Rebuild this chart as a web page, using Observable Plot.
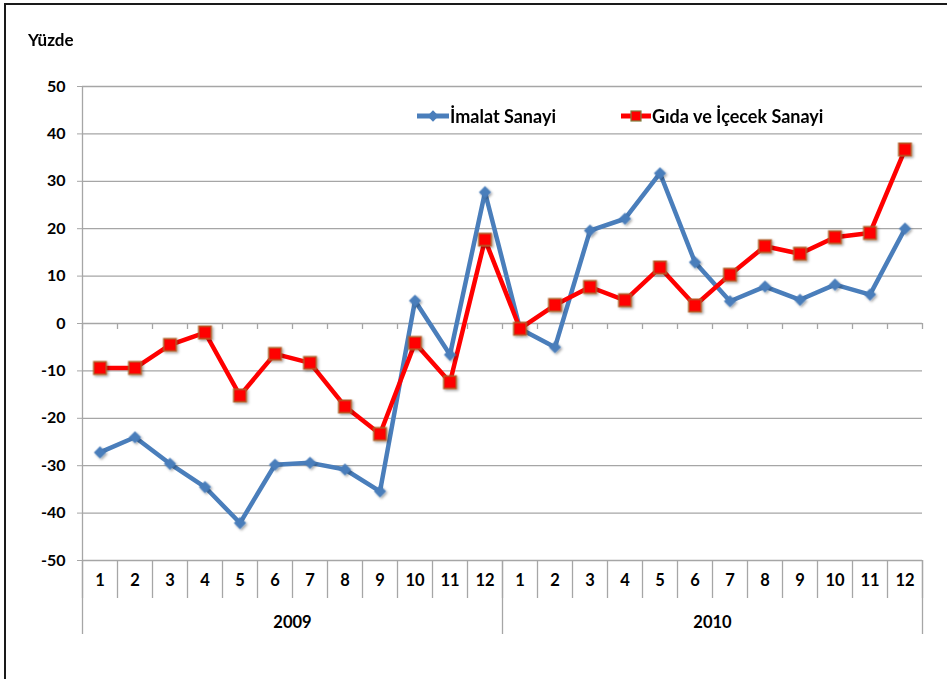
<!DOCTYPE html>
<html><head><meta charset="utf-8">
<script src="https://cdn.jsdelivr.net/npm/d3@7"></script>
<script src="https://cdn.jsdelivr.net/npm/@observablehq/plot@0.6"></script>
<style>
body{margin:0;background:#fff;font-family:Lato,"Open Sans",sans-serif;}
#wrap{position:relative;width:947px;height:679px;overflow:hidden;}
#chart{position:absolute;left:0;top:0;}
#frame{position:absolute;left:4px;top:3px;width:960px;height:700px;border-left:2px solid #1a1a1a;border-top:2px solid #1a1a1a;box-sizing:border-box;}
#ytitle{position:absolute;left:28px;top:29px;font-weight:bold;font-size:17px;color:#000;}
.leg{position:absolute;top:105px;height:22px;display:flex;align-items:center;font-weight:bold;font-size:18px;color:#000;white-space:nowrap;}
.leg svg{display:block;margin-right:1px;}
</style></head>
<body><div id="wrap"><div id="chart"></div><div id="frame"></div><div id="ytitle">Yüzde</div><div id="legend"></div></div>
<script>
const months = ["1","2","3","4","5","6","7","8","9","10","11","12"];
const years = ["2009","2010"];
const seriesNames = ["İmalat Sanayi","Gıda ve İçecek Sanayi"];
const imalat = [-27.2,-24.0,-29.6,-34.5,-42.1,-29.8,-29.4,-30.8,-35.4,4.8,-6.6,27.7,
                -1.1,-5.0,19.6,22.1,31.7,12.9,4.7,7.8,5.0,8.2,6.1,20.0];
const gida = [-9.4,-9.4,-4.5,-1.9,-15.2,-6.4,-8.3,-17.5,-23.3,-4.1,-12.4,17.7,
              -1.1,3.9,7.7,4.9,11.8,3.8,10.3,16.3,14.7,18.2,19.1,36.7];
const yTicks = [-50,-40,-30,-20,-10,0,10,20,30,40,50];

const blue = "#4a7ebb", red = "#ff0000", grid = "#a6a6a6";
const rows = [];
years.forEach((yr, yi) => months.forEach((m, mi) => {
  const i = yi * months.length + mi;
  rows.push({i, month: m, year: yr, imalat: imalat[i], gida: gida[i]});
}));
const n = rows.length;
const xc = d => d.i + 0.5;

const chart = Plot.plot({
  width: 947, height: 679,
  marginLeft: 82, marginRight: 25, marginTop: 86, marginBottom: 119,
  x: {domain: [0, n], axis: null},
  y: {domain: [-50, 50], axis: null},
  style: {fontFamily: "Lato, 'Open Sans', sans-serif", background: "transparent", overflow: "visible"},
  marks: [
    Plot.ruleY(yTicks, {stroke: grid, strokeWidth: 1.3}),
    Plot.ruleX([0], {stroke: grid, strokeWidth: 1.3}),
    Plot.axisY(yTicks, {anchor: "left", tickSize: 5, tickPadding: 12, stroke: grid, fill: "#000",
      fontSize: 16, fontWeight: "bold", tickFormat: d => String(d), label: null}),
    Plot.ruleX(d3.range(n + 1), {y1: 0, y2: 0, insetBottom: -6, stroke: grid, strokeWidth: 1.3}),
    Plot.ruleX(d3.range(n + 1), {y1: -50, y2: -50, insetBottom: -38, stroke: grid, strokeWidth: 1.3}),
    Plot.ruleX(d3.range(0, n + 1, months.length), {y1: -50, y2: -50, insetBottom: -74, stroke: grid, strokeWidth: 1.3}),
    Plot.text(rows, {x: xc, y: -50, dy: 20, text: "month", fontSize: 16.5, fontWeight: "bold", fill: "#000"}),
    Plot.text(years, {x: (d, j) => j * months.length + months.length / 2, y: -50, dy: 62, text: d => d,
      fontSize: 16.5, fontWeight: "bold", fill: "#000"}),
    Plot.line(rows, {x: xc, y: "imalat", stroke: blue, strokeWidth: 4.5, strokeLinejoin: "round"}),
    Plot.line(rows, {x: xc, y: "gida", stroke: red, strokeWidth: 4.5, strokeLinejoin: "round"}),
    Plot.dot(rows, {x: xc, y: "imalat", symbol: "square", rotate: 45, r: 4.3, fill: blue, stroke: blue, strokeWidth: 1}),
    Plot.dot(rows, {x: xc, y: "gida", symbol: "square", r: 7, fill: red, stroke: "#b0602a", strokeWidth: 1.5})
  ]
});
document.getElementById("chart").appendChild(chart);

// drop shadow on markers
const svg = d3.select(chart);
const defs = svg.insert("defs", ":first-child");
const f = defs.append("filter").attr("id", "mshadow").attr("x", "-50%").attr("y", "-50%").attr("width", "200%").attr("height", "200%");
f.append("feDropShadow").attr("dx", 1.5).attr("dy", 1.5).attr("stdDeviation", 1.2).attr("flood-color", "#000").attr("flood-opacity", 0.35);
svg.selectAll("g[aria-label='dot']").attr("filter", "url(#mshadow)");

// legend
const legend = document.getElementById("legend");
const items = [
  {name: seriesNames[0], left: 417, icon: `<svg width="32" height="14"><line x1="0" x2="32" y1="7" y2="7" stroke="${blue}" stroke-width="5"/><rect x="12" y="3" width="8" height="8" fill="${blue}" transform="rotate(45 16 7)"/></svg>`},
  {name: seriesNames[1], left: 621, icon: `<svg width="30" height="14"><line x1="0" x2="30" y1="7" y2="7" stroke="${red}" stroke-width="5"/><rect x="10" y="2" width="10" height="10" fill="${red}" stroke="#7f7f3f" stroke-width="1.2"/></svg>`}
];
items.forEach(it => {
  const d = document.createElement("div");
  d.className = "leg";
  d.style.left = it.left + "px";
  d.innerHTML = it.icon + `<span>${it.name}</span>`;
  legend.appendChild(d);
});
</script>
</body></html>
